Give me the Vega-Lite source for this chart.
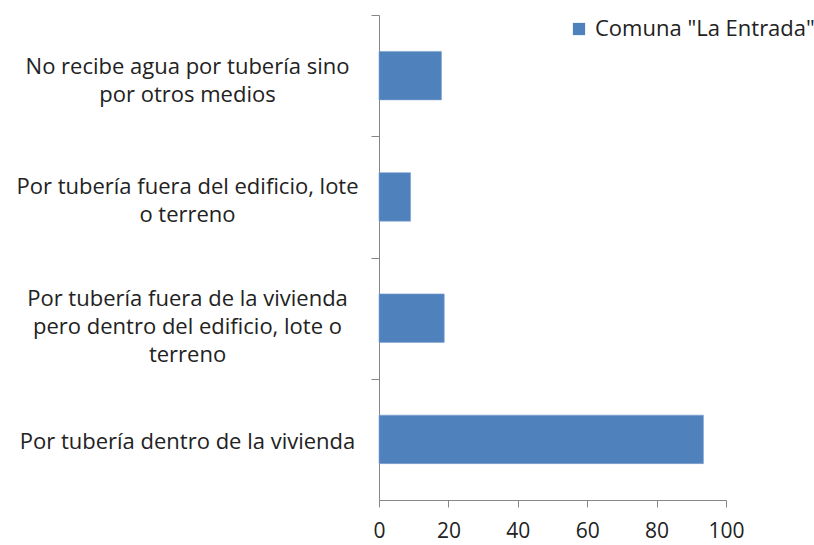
{
  "$schema": "https://vega.github.io/schema/vega-lite/v6.json",
  "autosize": "none",
  "width": 347,
  "height": 485,
  "padding": {"left": 379, "top": 15, "right": 88, "bottom": 45},
  "background": "white",
  "config": {
    "view": {"stroke": null},
    "font": "Open Sans"
  },
  "data": {
    "values": [
      {"categoria": "No recibe agua por tubería sino por otros medios", "serie": "Comuna \"La Entrada\"", "porcentaje": 18.0},
      {"categoria": "Por tubería fuera del edificio, lote o terreno", "serie": "Comuna \"La Entrada\"", "porcentaje": 9.1},
      {"categoria": "Por tubería fuera de la vivienda pero dentro del edificio, lote o terreno", "serie": "Comuna \"La Entrada\"", "porcentaje": 18.8},
      {"categoria": "Por tubería dentro de la vivienda", "serie": "Comuna \"La Entrada\"", "porcentaje": 93.5}
    ]
  },
  "mark": {"type": "bar", "stroke": "#7FA3D1", "strokeWidth": 0.6},
  "encoding": {
    "y": {
      "field": "categoria",
      "type": "nominal",
      "sort": null,
      "scale": {"paddingInner": 0.6, "paddingOuter": 0.3},
      "axis": {
        "title": null,
        "domainColor": "#868686",
        "tickColor": "#868686",
        "tickSize": 8,
        "tickOffset": -60.6,
        "labelOffset": {
          "condition": [
            {"test": "datum.value == 'No recibe agua por tubería sino por otros medios'", "value": 51.7},
            {"test": "datum.value == 'Por tubería fuera del edificio, lote o terreno'", "value": 50.4},
            {"test": "datum.value == 'Por tubería fuera de la vivienda pero dentro del edificio, lote o terreno'", "value": 40.5}
          ],
          "value": 62.9
        },
        "labelAlign": "center",
        "labelBaseline": "middle",
        "labelPadding": 184,
        "labelLimit": 400,
        "labelFontSize": 22,
        "labelColor": "#222222",
        "labelLineHeight": 28,
        "labelExpr": "datum.value == 'No recibe agua por tubería sino por otros medios' ? ['No recibe agua por tubería sino', 'por otros medios'] : datum.value == 'Por tubería fuera del edificio, lote o terreno' ? ['Por tubería fuera del edificio, lote', 'o terreno'] : datum.value == 'Por tubería fuera de la vivienda pero dentro del edificio, lote o terreno' ? ['Por tubería fuera de la vivienda', 'pero dentro del edificio, lote o', 'terreno'] : datum.value"
      }
    },
    "x": {
      "field": "porcentaje",
      "type": "quantitative",
      "scale": {"domain": [0, 100], "nice": false},
      "axis": {
        "title": null,
        "values": [0, 20, 40, 60, 80, 100],
        "grid": false,
        "domainColor": "#868686",
        "tickColor": "#868686",
        "tickSize": 7,
        "labelPadding": 13,
        "labelFontSize": 21,
        "labelColor": "#222222",
        "labelFlush": false
      }
    },
    "color": {
      "field": "serie",
      "type": "nominal",
      "scale": {"range": ["#4F81BD"]},
      "legend": {
        "title": null,
        "orient": "none",
        "legendX": 189,
        "legendY": 3,
        "symbolType": "square",
        "symbolSize": 150,
        "symbolStrokeWidth": 0,
        "labelFontSize": 22,
        "labelColor": "#222222",
        "labelLimit": 400,
        "labelOffset": 5
      }
    }
  }
}
